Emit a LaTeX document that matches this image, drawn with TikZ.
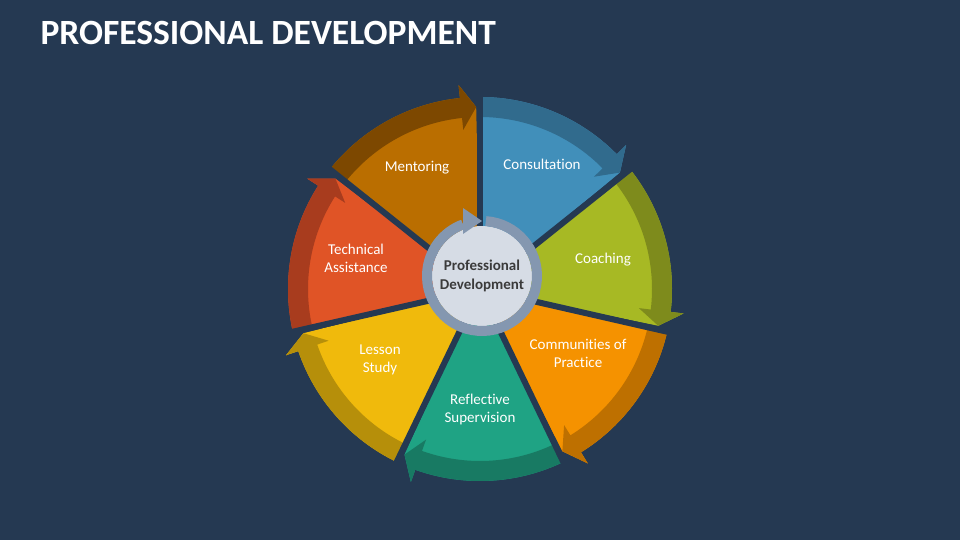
\documentclass[tikz,border=0pt]{standalone}
\usepackage{fontspec}
\setmainfont[Ligatures={NoCommon}]{Carlito}
\usetikzlibrary{calc}

\definecolor{bgnavy}{HTML}{253952}
\definecolor{consultL}{HTML}{418FBA}
\definecolor{consultD}{HTML}{316B8D}
\definecolor{coachL}{HTML}{A7B924}
\definecolor{coachD}{HTML}{7E8B1C}
\definecolor{commL}{HTML}{F59200}
\definecolor{commD}{HTML}{BE7000}
\definecolor{reflL}{HTML}{1FA384}
\definecolor{reflD}{HTML}{187A63}
\definecolor{lessonL}{HTML}{F0BA0C}
\definecolor{lessonD}{HTML}{B68F0A}
\definecolor{techL}{HTML}{E05426}
\definecolor{techD}{HTML}{A83C1E}
\definecolor{mentorL}{HTML}{BA6E00}
\definecolor{mentorD}{HTML}{7D4800}
\definecolor{ringblue}{HTML}{8497B0}
\definecolor{diskgray}{HTML}{D6DCE5}
\definecolor{hubtext}{HTML}{3B3B3B}

\tikzset{
  lbl/.style={text=white, font=\fontsize{15}{18}\selectfont, align=center},
  gapline/.style={draw=bgnavy, line width=6pt},
}

% #1 start angle, #2 end angle, #3 light, #4 dark
\newcommand\wheelpiece[4]{%
  \fill[#3] (0,0) -- (#1:192) arc[start angle=#1, end angle=#2+6, radius=192]
    -- (#2+6:205) -- (#2+1.2:182) -- cycle;
  \fill[#4] (#1:172) -- (#1:192) arc[start angle=#1, end angle=#2+6, radius=192]
    -- (#2+6:205) -- (#2+1.2:182) -- (#2+6:160) -- (#2+6:172)
    arc[start angle=#2+6, end angle=#1, radius=172] -- cycle;
}

\begin{document}
\begin{tikzpicture}[x=1pt,y=1pt]
  \fill[bgnavy] (0,0) rectangle (960,540);

  \node[anchor=base west, text=white, font=\fontsize{35.5}{40}\selectfont\bfseries] (title)
    at (37,495) {PROFESSIONAL DEVELOPMENT};

  \begin{scope}[shift={(480,251)}]
    \coordinate (o) at (0,0);
    \wheelpiece{90}{38.57}{consultL}{consultD}
    \wheelpiece{38.57}{-12.86}{coachL}{coachD}
    \wheelpiece{-12.86}{-64.29}{commL}{commD}
    \wheelpiece{-64.29}{-115.71}{reflL}{reflD}
    \wheelpiece{-115.71}{-167.14}{lessonL}{lessonD}
    \wheelpiece{-167.14}{-218.57}{techL}{techD}
    \wheelpiece{-218.57}{-270}{mentorL}{mentorD}

    \foreach \t in {90,38.57,-12.86,-64.29,-115.71,-167.14,-218.57}
      \draw[gapline] (o) -- (\t:215);
  \end{scope}

  \coordinate (hub) at (482,264);
  \fill[diskgray] (hub) circle[radius=50];
  \draw[ringblue, line width=10pt] (hub) ++(86:55) arc[start angle=86, end angle=-249.8, radius=55];
  \fill[ringblue] ($(hub)+(-19,68)$) -- ($(hub)+(0,55)$) -- ($(hub)+(-19,42)$) -- cycle;
  \node[text=hubtext, font=\fontsize{15}{19}\selectfont\bfseries, align=center] (hublbl)
    at (hub) {Professional\\Development};

  \node[lbl] (consult) at (542,376) {Consultation};
  \node[lbl] (coach) at (603,280) {Coaching};
  \node[lbl] (commun) at (578,187) {Communities of\\Practice};
  \node[lbl] (reflect) at (480,130) {Reflective\\Supervision};
  \node[lbl] (lesson) at (380,180) {Lesson\\Study};
  \node[lbl] (techas) at (356,282) {Technical\\Assistance};
  \node[lbl] (mentor) at (417,372) {Mentoring};
\end{tikzpicture}
\end{document}
